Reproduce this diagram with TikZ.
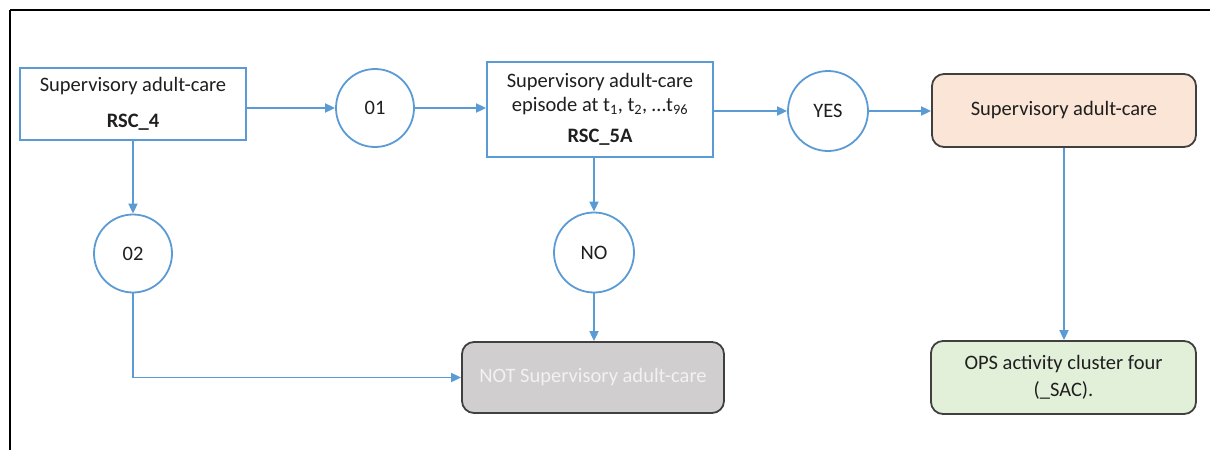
\documentclass[tikz,border=0pt]{standalone}
\usepackage{fontspec}
\setmainfont{Carlito}
\usetikzlibrary{arrows.meta}
\definecolor{lblue}{HTML}{5B9BD5}
\definecolor{dgray}{HTML}{404040}
\definecolor{orfill}{HTML}{FBE5D6}
\definecolor{grfill}{HTML}{E2F0D9}
\definecolor{gyfill}{HTML}{D0CECE}
\definecolor{gytext}{HTML}{F2F2F2}
\tikzset{
  every node/.style={font=\fontsize{20.5}{24}\selectfont, text=black!88},
  bluebox/.style={draw=lblue, line width=1.8pt, fill=white, align=center, inner sep=0pt},
  roundbox/.style={draw=dgray, line width=1.8pt, rounded corners=12pt, align=center, inner sep=0pt},
  decision/.style={draw=lblue, line width=1.8pt, circle, fill=white, minimum size=78pt, inner sep=0pt},
  conn/.style={draw=lblue, line width=1.8pt, -{Triangle[length=10pt,width=9pt]}},
}
\begin{document}
\begin{tikzpicture}[x=1pt,y=-1pt]
\useasboundingbox (0,0) rectangle (1210,450);
% frame
\draw[line width=2.2pt] (10,10) -- (1210,10);
\draw[line width=2.2pt] (10,10) -- (10,47);
\draw[line width=1.1pt] (10,47) -- (10,420);
\draw[line width=2.2pt] (10,420) -- (10,450);
% nodes
\node[bluebox, minimum width=226pt, minimum height=72pt] (rsc4) at (133,104)
  {Supervisory adult-care\\[12pt]\textbf{RSC\_4}};
\node[decision] (c01) at (375,108) {01};
\node[bluebox, minimum width=226pt, minimum height=95pt] (rsc5a) at (600,109.5)
  {Supervisory adult-care\\episode at t\textsubscript{1}, t\textsubscript{2}, …t\textsubscript{96}\\[7pt]\textbf{RSC\_5A}};
\node[decision, minimum size=80pt] (cyes) at (828,111) {YES};
\node[roundbox, fill=orfill, minimum width=264pt, minimum height=73pt] (sac) at (1064,110.5)
  {Supervisory adult-care};
\node[decision] (c02) at (133,253.5) {02};
\node[decision, minimum size=80pt] (cno) at (594,252.5) {NO};
\node[roundbox, fill=gyfill, minimum width=262pt, minimum height=71pt, text=gytext] (notsac) at (593,377.5)
  {NOT Supervisory adult-care};
\node[roundbox, fill=grfill, minimum width=265pt, minimum height=73pt] (ops) at (1063.5,377.5)
  {OPS activity cluster four\\[3pt](\_SAC).};
% connectors
\draw[conn] (rsc4.east |- c01) -- (c01.west);
\draw[conn] (c01.east) -- (rsc5a.west |- c01);
\draw[conn] (rsc5a.east |- cyes) -- (cyes.west);
\draw[conn] (cyes.east) -- (sac.west |- cyes);
\draw[conn] (rsc4.south) -- (c02.north);
\draw[conn] (c02.south) |- (notsac.west);
\draw[conn] (cno |- rsc5a.south) -- (cno.north);
\draw[conn] (cno.south) -- (cno |- notsac.north);
\draw[conn] (sac.south) -- (sac.south |- ops.north);
\end{tikzpicture}
\end{document}
